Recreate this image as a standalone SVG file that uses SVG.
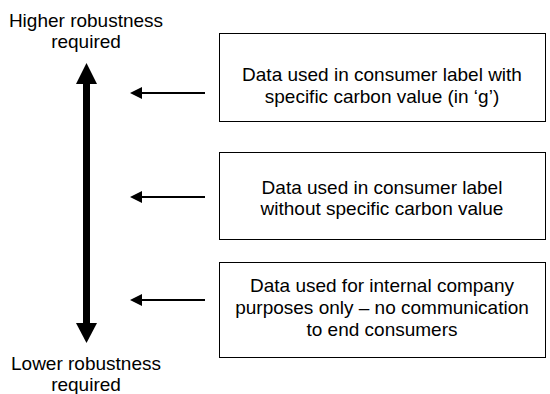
<svg xmlns="http://www.w3.org/2000/svg" width="550" height="394" viewBox="0 0 550 394">
<defs>
<style>
text{font-family:"Liberation Sans",Arial,sans-serif;font-size:19px;fill:#000;text-anchor:middle}
.box{fill:#fff;stroke:#000;stroke-width:1}
.conn{stroke:#000;stroke-width:2;fill:none}
.big{stroke:#000;stroke-width:7;fill:none}
</style>
<marker id="ah" markerWidth="6" markerHeight="6" refX="5" refY="3" orient="auto" markerUnits="strokeWidth">
<path d="M0,0 L6,3 L0,6 Z" fill="#000"/>
</marker>
</defs>
<rect width="550" height="394" fill="#fff"/>
<g id="label-top">
<text x="86" y="27">Higher robustness</text>
<text x="86" y="48">required</text>
</g>
<g id="label-bottom">
<text x="86" y="370">Lower robustness</text>
<text x="86" y="391">required</text>
</g>
<g id="box1">
<rect class="box" x="219.5" y="33.5" width="326" height="88"/>
<text x="382" y="81">Data used in consumer label with</text>
<text x="382" y="103">specific carbon value (in ‘g’)</text>
</g>
<g id="box2">
<rect class="box" x="219.5" y="152.5" width="326" height="87"/>
<text x="382" y="194">Data used in consumer label</text>
<text x="382" y="215">without specific carbon value</text>
</g>
<g id="box3">
<rect class="box" x="219.5" y="262.5" width="326" height="95"/>
<text x="382" y="292">Data used for internal company</text>
<text x="382" y="314">purposes only – no communication</text>
<text x="382" y="336">to end consumers</text>
</g>
<g id="connectors">
<path d="M86.5,84 V323" class="big"/>
<path d="M86.5,63 L76,84 L97,84 Z" fill="#000"/>
<path d="M86.5,343 L76,323 L97,323 Z" fill="#000"/>
<path d="M205,93 H132" class="conn" marker-end="url(#ah)"/>
<path d="M205,197 H132" class="conn" marker-end="url(#ah)"/>
<path d="M205,300 H132" class="conn" marker-end="url(#ah)"/>
</g>
</svg>
